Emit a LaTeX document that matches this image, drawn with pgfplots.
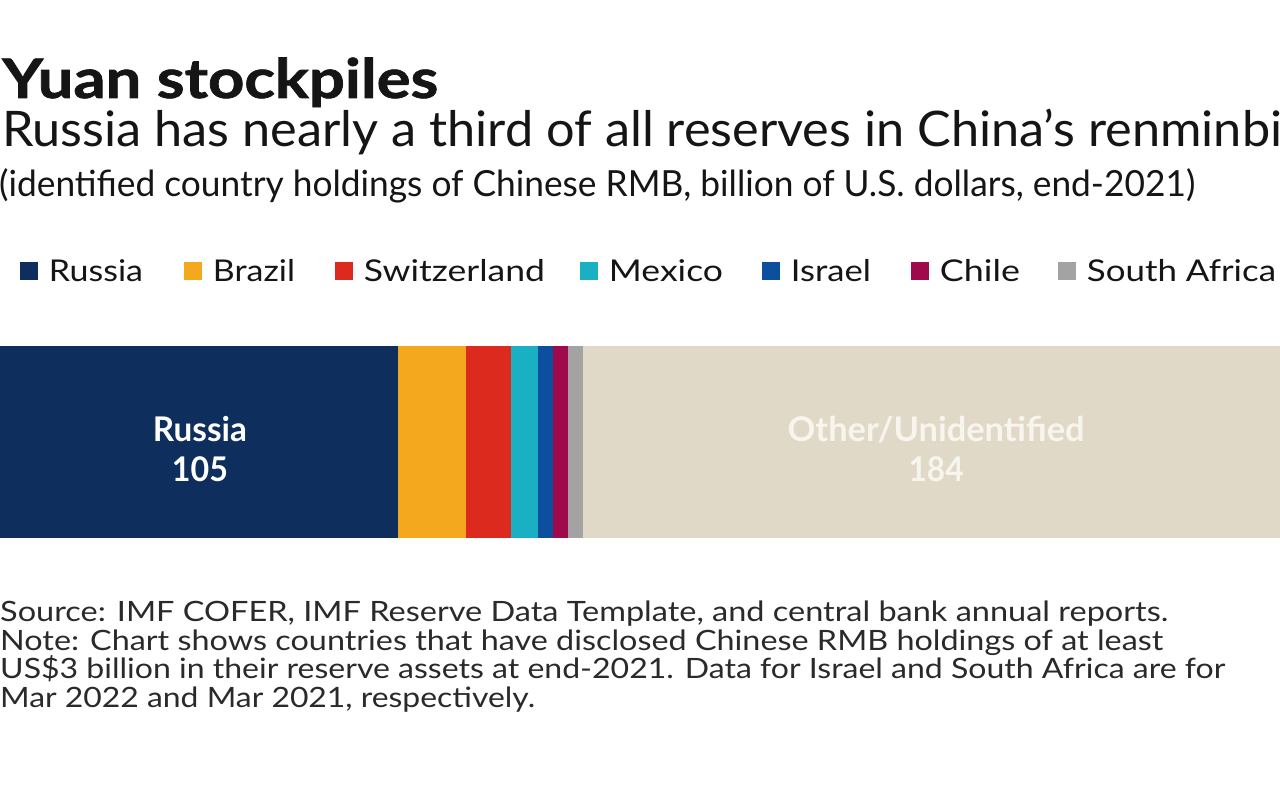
\documentclass[border=0pt]{standalone}
\usepackage{fontspec}
\setmainfont{Lato}
\newfontfamily\titlefont{Lato}[BoldFeatures={FakeBold=1.2}]
\usepackage{graphicx}
\usepackage{pgfplots}
\pgfplotsset{compat=1.18}
\definecolor{cRus}{HTML}{0E2F5E}
\definecolor{cBra}{HTML}{F4A81D}
\definecolor{cSwi}{HTML}{DD2A1F}
\definecolor{cMex}{HTML}{18B0C2}
\definecolor{cIsr}{HTML}{0B4F9E}
\definecolor{cChi}{HTML}{9E0A4C}
\definecolor{cSaf}{HTML}{A3A3A3}
\definecolor{cOth}{HTML}{E0D9C8}
\definecolor{cOthTxt}{HTML}{F8F5EE}
\definecolor{txt}{HTML}{151515}
\definecolor{foot}{HTML}{2A2A2A}
\newcommand{\rb}[2]{\resizebox{#1pt}{\height}{#2}}
\newcommand{\legtxt}[3]{\makebox[#1pt][l]{\hspace*{11pt}\rb{#2}{#3}}}
\pgfplotsset{sq/.style={legend image code/.code={\fill[##1] (0pt,-9pt) rectangle (18pt,9pt);}}}
\begin{document}
\begin{tikzpicture}[x=1pt,y=1pt]
\path[use as bounding box] (0,0) rectangle (1280,805);
\clip (0,0) rectangle (1280,805);
\fill[white] (0,0) rectangle (1280,805);
\begin{axis}[
  at={(0pt,267pt)}, anchor=south west,
  scale only axis, width=1280pt, height=192pt,
  xbar stacked, bar width=192pt,
  xmin=0, xmax=338, ymin=0, ymax=1,
  hide axis,
  clip=false,
  legend columns=7,
  legend style={at={(axis description cs:0.015625,1.3906)}, anchor=west,
    draw=none, fill=none, inner sep=0pt, outer sep=0pt,
    column sep=0pt, row sep=0pt,
    cells={anchor=west},
    nodes={inner sep=0pt, outer sep=0pt, text=txt},
    font=\fontsize{30}{36}\selectfont},
]
\addplot[fill=cRus, draw=none, sq] coordinates {(105,0.5)};
\addplot[fill=cBra, draw=none, sq] coordinates {(18,0.5)};
\addplot[fill=cSwi, draw=none, sq] coordinates {(12,0.5)};
\addplot[fill=cMex, draw=none, sq] coordinates {(7,0.5)};
\addplot[fill=cIsr, draw=none, sq] coordinates {(4,0.5)};
\addplot[fill=cChi, draw=none, sq] coordinates {(4,0.5)};
\addplot[fill=cSaf, draw=none, sq] coordinates {(4,0.5)};
\addplot[fill=cOth, draw=none, forget plot] coordinates {(184,0.5)};
\legend{\legtxt{146}{94}{Russia},\legtxt{133}{82}{Brazil},\legtxt{227}{181}{Switzerland},\legtxt{164}{114}{Mexico},\legtxt{131}{80}{Israel},\legtxt{129}{80}{Chile},\legtxt{230}{189}{South Africa}}
\coordinate (rus) at (axis cs:52.8,0.5);
\coordinate (oth) at (axis cs:247.2,0.5);
\end{axis}
\begin{scope}[every node/.style={anchor=base, inner sep=0pt, font=\fontsize{34}{40}\bfseries\selectfont}]
\node[text=white] at (rus) {\rb{94}{Russia}};
\node[text=white] at ([yshift=-40pt]rus) {\rb{56}{105}};
\node[text=cOthTxt] at (oth) {\rb{297}{Other/Unidentified}};
\node[text=cOthTxt] at ([yshift=-40pt]oth) {\rb{55}{184}};
\end{scope}
\node[anchor=base west, inner sep=0pt, text=txt, font=\titlefont\fontsize{54.5}{60}\bfseries\selectfont] at (2,707) {\rb{436}{Yuan stockpiles}};
\node[anchor=base west, inner sep=0pt, text=txt, font=\fontsize{49}{56}\selectfont] at (2,658) {\rb{1280}{Russia has nearly a third of all reserves in China’s renminbi}};
\node[anchor=base west, inner sep=0pt, text=txt, font=\fontsize{36}{42}\selectfont] at (-1,608) {\rb{1196}{(identified country holdings of Chinese RMB, billion of U.S. dollars, end-2021)}};
\begin{scope}[every node/.style={anchor=base west, inner sep=0pt, text=foot, font=\fontsize{28}{34}\selectfont}]
\node at (0,183) {\rb{1168}{Source: IMF COFER, IMF Reserve Data Template, and central bank annual reports.}};
\node at (0,154.5) {\rb{1163}{Note: Chart shows countries that have disclosed Chinese RMB holdings of at least}};
\node at (0,126) {\rb{1225}{US\$3 billion in their reserve assets at end-2021. Data for Israel and South Africa are for}};
\node at (0,97.5) {\rb{535}{Mar 2022 and Mar 2021, respectively.}};
\end{scope}
\end{tikzpicture}
\end{document}
